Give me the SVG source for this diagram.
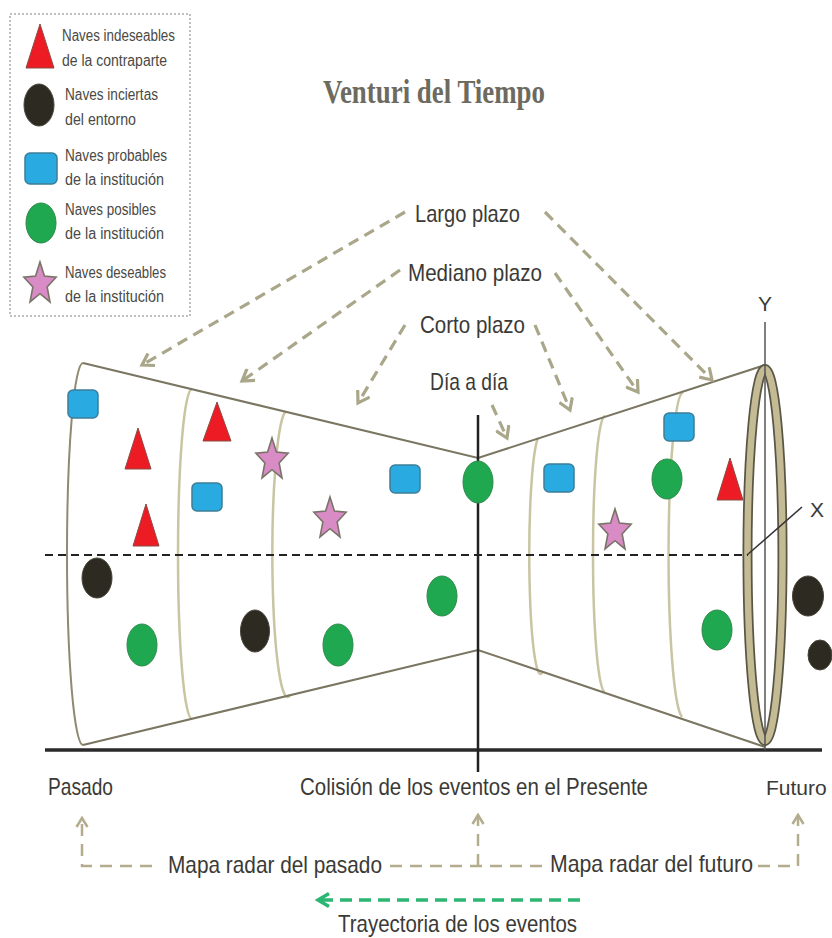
<svg xmlns="http://www.w3.org/2000/svg" xmlns:xlink="http://www.w3.org/1999/xlink" width="832" height="938" viewBox="0 0 832 938">
<style>
  .lbl { font-family: "Liberation Sans", Arial, sans-serif; fill: #3b3a36; }
  .leg { font-family: "Liberation Sans", Arial, sans-serif; font-size: 16px; fill: #4a4944; }
  .big { font-size: 24px; }
  .title { font-family: "Liberation Serif", "Times New Roman", serif; font-weight: bold; font-size: 34px; fill: #6d6a60; }
  .outline { fill: none; stroke: #7a7662; stroke-width: 2; }
  .ring { fill: none; stroke: #c9c4a2; stroke-width: 2.5; }
  .tanarrow { fill: none; stroke: #aaa68a; stroke-width: 3.2; stroke-dasharray: 11 7; }
  .radar { fill: none; stroke: #b3ad8e; stroke-width: 2.5; stroke-dasharray: 12 8; }
  .blue { fill: #29abe2; stroke: #3c7d97; stroke-width: 1.5; }
  .red { fill: #ed1c24; stroke: #8a4a44; stroke-width: 1; }
  .green { fill: #1fa84f; stroke: #2f8a4c; stroke-width: 1; }
  .black { fill: #2d2a22; stroke: #4a463a; stroke-width: 1; }
  .pink { fill: #d98bc6; stroke: #7a7468; stroke-width: 1.6; }
</style>
<defs>
  <marker id="tanhead" markerUnits="userSpaceOnUse" markerWidth="16" markerHeight="16" viewBox="0 0 16 16" refX="13" refY="8" orient="auto">
    <path d="M2,1 L13,8 L2,15" fill="none" stroke="#aaa68a" stroke-width="3.2" stroke-linejoin="miter"/>
  </marker>
  <marker id="smallhead" markerUnits="userSpaceOnUse" markerWidth="14" markerHeight="14" viewBox="0 0 14 14" refX="11" refY="7" orient="auto">
    <path d="M2,1.5 L11,7 L2,12.5" fill="none" stroke="#b3ad8e" stroke-width="2.5"/>
  </marker>
  <marker id="greenhead" markerUnits="userSpaceOnUse" markerWidth="16" markerHeight="16" viewBox="0 0 16 16" refX="13" refY="8" orient="auto">
    <path d="M2,1.5 L13,8 L2,14.5" fill="none" stroke="#2bb673" stroke-width="3.5"/>
  </marker>
  <polygon id="star" points="0,-22.1 4.41,-7.89 16.17,-6.83 7.13,3.01 10,17.88 0,9.75 -10,17.88 -7.13,3.01 -16.17,-6.83 -4.41,-7.89"/>
  <rect id="box" x="-15" y="-14" width="30" height="28" rx="5"/>
</defs>

<rect x="0" y="0" width="832" height="938" fill="#ffffff"/>

<!-- Legend -->
<g id="legend">
  <rect x="10" y="14" width="180" height="302" fill="#ffffff" stroke="#aaaaaa" stroke-width="1.5" stroke-dasharray="2 2"/>
  <polygon class="red" points="40,24 26,68 54,68"/>
  <text class="leg" x="62" y="41" textLength="113" lengthAdjust="spacingAndGlyphs">Naves indeseables</text>
  <text class="leg" x="62" y="66" textLength="105" lengthAdjust="spacingAndGlyphs">de la contraparte</text>
  <ellipse class="black" cx="39" cy="105" rx="15" ry="21"/>
  <text class="leg" x="65" y="100" textLength="93" lengthAdjust="spacingAndGlyphs">Naves inciertas</text>
  <text class="leg" x="65" y="125" textLength="71" lengthAdjust="spacingAndGlyphs">del entorno</text>
  <rect class="blue" x="25" y="153" width="32" height="31" rx="5"/>
  <text class="leg" x="65" y="161" textLength="102" lengthAdjust="spacingAndGlyphs">Naves probables</text>
  <text class="leg" x="65" y="185" textLength="99" lengthAdjust="spacingAndGlyphs">de la institución</text>
  <ellipse class="green" cx="41" cy="223" rx="15" ry="20"/>
  <text class="leg" x="65" y="215" textLength="91" lengthAdjust="spacingAndGlyphs">Naves posibles</text>
  <text class="leg" x="65" y="239" textLength="99" lengthAdjust="spacingAndGlyphs">de la institución</text>
  <use href="#star" class="pink" x="40" y="284"/>
  <text class="leg" x="65" y="278" textLength="101" lengthAdjust="spacingAndGlyphs">Naves deseables</text>
  <text class="leg" x="65" y="302" textLength="99" lengthAdjust="spacingAndGlyphs">de la institución</text>
</g>

<!-- Title -->
<text id="title" class="title" x="323" y="103" textLength="222" lengthAdjust="spacingAndGlyphs">Venturi del Tiempo</text>

<!-- Venturi body -->
<g id="venturi">
  <path class="ring" d="M192,389 A14,165 0 0 0 192,719"/>
  <path class="ring" d="M285,412 A15,142 0 0 0 290,695"/>
  <path class="ring" d="M538,438 A11,117 0 0 0 543,671"/>
  <path class="ring" d="M605,416 A12,138 0 0 0 605,692"/>
  <path class="ring" d="M683,392 A15,163 0 0 0 682,717"/>
  <path d="M83,363 A16,191 0 0 0 83,745" fill="none" stroke="#8f8a70" stroke-width="2"/>
  <path class="outline" d="M83,363 L478,458 L765,365"/>
  <path class="outline" d="M83,745 L478,650 L765,747"/>
  <ellipse cx="765" cy="555" rx="17.5" ry="186" fill="none" stroke="#5a5646" stroke-width="10"/>
  <ellipse cx="765" cy="555" rx="17.5" ry="186" fill="none" stroke="#c4bb95" stroke-width="6.5"/>
</g>

<!-- Axes -->
<g id="axes">
  <path d="M45,555 H748" fill="none" stroke="#222" stroke-width="2" stroke-dasharray="8 5"/>
  <path d="M45,750 H822" fill="none" stroke="#2a2a2a" stroke-width="3.5"/>
  <path d="M478,415 V772" fill="none" stroke="#222" stroke-width="2.5"/>
  <path d="M765,322 V750" fill="none" stroke="#555" stroke-width="1.5"/>
  <path d="M747,555 L802,507" fill="none" stroke="#333" stroke-width="1.5"/>
  <text class="lbl" x="765" y="311" font-size="21" text-anchor="middle">Y</text>
  <text class="lbl" x="817" y="517" font-size="21" text-anchor="middle">X</text>
</g>

<!-- Ships -->
<g id="ship-blue-1"><use href="#box" class="blue" x="83" y="404"/></g>
<g id="ship-blue-2"><use href="#box" class="blue" x="207" y="497"/></g>
<g id="ship-blue-3"><use href="#box" class="blue" x="405" y="479"/></g>
<g id="ship-blue-4"><use href="#box" class="blue" x="559" y="478"/></g>
<g id="ship-blue-5"><use href="#box" class="blue" x="679" y="427"/></g>

<g id="ship-red-1"><polygon class="red" points="138,428 125,469 151,469"/></g>
<g id="ship-red-2"><polygon class="red" points="217,402 203,441 231,441"/></g>
<g id="ship-red-3"><polygon class="red" points="146,504 133,546 159,546"/></g>
<g id="ship-red-4"><polygon class="red" points="730,458 717,500 743,500"/></g>

<g id="ship-star-1"><use href="#star" class="pink" x="272" y="460"/></g>
<g id="ship-star-2"><use href="#star" class="pink" x="330" y="519"/></g>
<g id="ship-star-3"><use href="#star" class="pink" x="615" y="531"/></g>

<g id="ship-black-1"><ellipse class="black" cx="97" cy="578" rx="15" ry="20"/></g>
<g id="ship-black-2"><ellipse class="black" cx="255" cy="631" rx="14.5" ry="21"/></g>
<g id="ship-black-3"><ellipse class="black" cx="808" cy="596" rx="15.5" ry="20"/></g>
<g id="ship-black-4"><ellipse class="black" cx="820" cy="655" rx="12" ry="15"/></g>

<g id="ship-green-1"><ellipse class="green" cx="142" cy="645" rx="15" ry="21"/></g>
<g id="ship-green-2"><ellipse class="green" cx="338" cy="645" rx="15" ry="21"/></g>
<g id="ship-green-3"><ellipse class="green" cx="478" cy="482" rx="15" ry="21"/></g>
<g id="ship-green-4"><ellipse class="green" cx="667" cy="479" rx="15" ry="20"/></g>
<g id="ship-green-5"><ellipse class="green" cx="442" cy="596" rx="15" ry="20"/></g>
<g id="ship-green-6"><ellipse class="green" cx="717" cy="630" rx="15" ry="20"/></g>

<!-- Horizon labels -->
<g id="labels">
  <text class="lbl big" x="415" y="222" textLength="105" lengthAdjust="spacingAndGlyphs">Largo plazo</text>
  <text class="lbl big" x="408" y="281" textLength="134" lengthAdjust="spacingAndGlyphs">Mediano plazo</text>
  <text class="lbl big" x="420" y="333" textLength="105" lengthAdjust="spacingAndGlyphs">Corto plazo</text>
  <text class="lbl big" x="430" y="390" textLength="78" lengthAdjust="spacingAndGlyphs">Día a día</text>
  <text class="lbl big" x="48" y="795" textLength="65" lengthAdjust="spacingAndGlyphs">Pasado</text>
  <text class="lbl big" x="300" y="795" textLength="348" lengthAdjust="spacingAndGlyphs">Colisión de los eventos en el Presente</text>
  <text class="lbl" x="766" y="795" font-size="21">Futuro</text>
  <text class="lbl big" x="168" y="873" textLength="214" lengthAdjust="spacingAndGlyphs">Mapa radar del pasado</text>
  <text class="lbl big" x="550" y="872" textLength="203" lengthAdjust="spacingAndGlyphs">Mapa radar del futuro</text>
  <text class="lbl big" x="338" y="932" textLength="239" lengthAdjust="spacingAndGlyphs">Trayectoria de los eventos</text>
</g>

<!-- Connectors -->
<g id="connectors">
  <path class="tanarrow" d="M405,212 L142,365" marker-end="url(#tanhead)"/>
  <path class="tanarrow" d="M400,270 L242,381" marker-end="url(#tanhead)"/>
  <path class="tanarrow" d="M405,325 L358,403" marker-end="url(#tanhead)"/>
  <path class="tanarrow" d="M545,212 L712,380" marker-end="url(#tanhead)"/>
  <path class="tanarrow" d="M555,273 L638,392" marker-end="url(#tanhead)"/>
  <path class="tanarrow" d="M535,325 L570,410" marker-end="url(#tanhead)"/>
  <path class="tanarrow" d="M492,405 L507,438" marker-end="url(#tanhead)"/>

  <path class="radar" d="M152,866 H82 V818" marker-end="url(#smallhead)"/>
  <path class="radar" d="M390,866 H545"/>
  <path class="radar" d="M478,866 V815" marker-end="url(#smallhead)"/>
  <path class="radar" d="M758,866 H798 V815" marker-end="url(#smallhead)"/>

  <path d="M580,900 H318" fill="none" stroke="#2bb673" stroke-width="3.5" stroke-dasharray="12 7" marker-end="url(#greenhead)"/>
</g>
</svg>
